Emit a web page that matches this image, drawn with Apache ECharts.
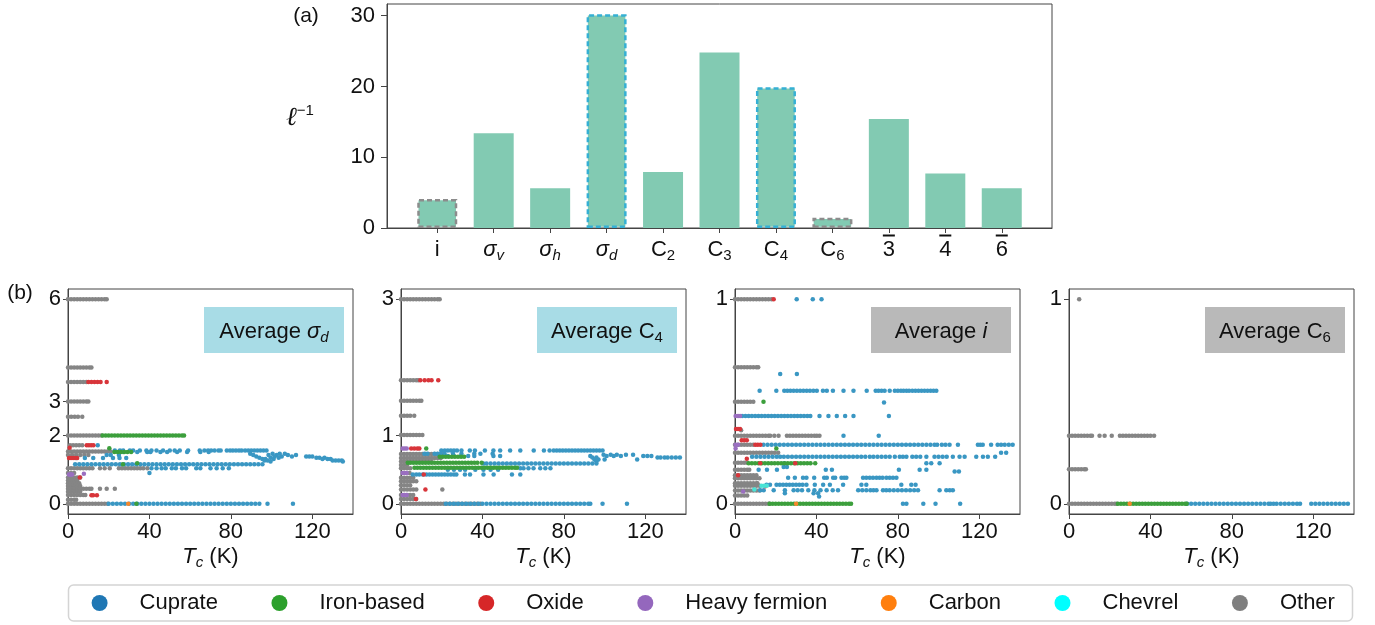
<!DOCTYPE html>
<html>
<head>
<meta charset="utf-8">
<script src="https://cdn.jsdelivr.net/npm/echarts@6/dist/echarts.min.js"></script>
<style>
  html, body { margin: 0; padding: 0; background: #ffffff; }
  #chart { width: 1375px; height: 625px; }
</style>
</head>
<body>
<div id="chart"></div>
<script>
// ---------- (a) inverse length per symmetry operation ----------
const opKeys = ['i', 'σv', 'σh', 'σd', 'C2', 'C3', 'C4', 'C6', '3bar', '4bar', '6bar'];
const opLabels = ['i', '{g|σ}{s|v}', '{g|σ}{s|h}', '{g|σ}{s|d}', 'C{n|2}', 'C{n|3}', 'C{n|4}', 'C{n|6}', '3', '4', '6'];
const opOverlined = [false, false, false, false, false, false, false, false, true, true, true];
const invLength = [4.1, 13.4, 5.6, 30.2, 7.9, 24.8, 19.9, 1.45, 15.4, 7.7, 5.6];
const invLengthTicks = [0, 10, 20, 30];

// ---------- (b) averages vs Tc; rows are [average, Tc1, Tc2, ...] ----------
const tcTicks = [0, 40, 80, 120];
const classNames = ['Cuprate', 'Iron-based', 'Oxide', 'Heavy fermion', 'Carbon', 'Chevrel', 'Other'];

// Average sigma_d
const sigmaDTicks = [0, 2, 3, 6];
const sigmaD_other = [
  [6, 0,1.5,3,4.5,6,7.5,9,10.5,12,13.5,15,16.5,18,19],
  [4, 0,1.5,3,4.5,6,7.5,9,10.5,11.5],
  [3.57, 0,1.5,3,4.5,6,7.5,9],
  [3, 0,1.5,3,4.5,6,7.5,9,10],
  [2.55, 0,1.6,3.3,4.9,7],
  [2, 0,1.5,3,4.5,6,7.5,9,10.5,12,13.5,15,16.5],
  [1.72, 1,2.5,4,5.5,7],
  [1.53, 0,1.5,3,4.5,6,7.5,9,10.5,12,13.5,15,16.5,18,19.5,21],
  [1.43, 0,2,4,6,8,10],
  [1.04, 0,1.5,3,4.5,6,7.5,9,10.5,12,15.7,18,20.5,25,26.5,28,29.5,31,32.5,34,35.5,37,39],
  [0.9, 0,1.5,3],
  [0.77, 0,1.5,3,4.5,6],
  [0.68, 0,1.5,3,4.5],
  [0.6, 0,1.5,3,4.5,5.5],
  [0.52, 0,1.5,3,4.5,6],
  [0.44, 0,1.5,3,4.5,6,7.5,9,10.5,11.5,15.7,19,23],
  [0.35, 0,1.5,3,4.5,6],
  [0.26, 0,1.5,3,4.5,6,7.5,8.5],
  [0.12, 0,1.5,3,4],
  [0, 0,1.5,3,4.5,6,7.5,9,10.5,12,13.5,15,16.5,18,19.5]
];
const sigmaD_cuprate = [
  [1.72, 14.6],
  [1.56, 23,25.5,27.1,30.4,32,35.3,38.5,41,43.5,46.7,50,52.4,54.9,59,64.7,67,68.8,70.3,72,73.9,75,78,79.6,81,82.5,84,85.3,87,88.5,90,91.5,93,94.5,96,97.5],
  [1.52, 27.1,34,38.9,40.5,45.4,48.7,53.6,58.5,65,69.1],
  [1.47, 89.5,100.5,104,106.5],
  [1.43, 19,21,25,91,98.5,102.5,108,112],
  [1.39, 92.5,101.5,105,110,117,118.5,120],
  [1.35, 94,99.5,103.5,122,123.5,126],
  [1.34, 4.2,8.3,12.4,17.2,22.1,25.3,28.6],
  [1.31, 95.5,97,101,125,127.5,129],
  [1.27, 96.5,98,130,131.5,133,134.5],
  [1.24, 99.5,135],
  [1.16, 3.5,5.5,7.5,9.5,11.5,13.5,15.5,17.5,19.5,21.5,23.5,25.5,27.5,29.5,31.5,33.5,35.5,37.5,39.5,41.5,43.5,45.5,47.5,49.5,51.5,53.5,55.5,57.5,59.5,61.5,63.5,65.5,67.5,69.5,71.5,73.5,75.5,77.5,79.5,81.5,83.5,85.5,87.5,89.5,91.5,93.5,95.5],
  [1.04, 41,43.5,46,48,51,53,56,58,63,65,70,73,76,79],
  [0.9, 40],
  [0, 20,22,24,26,28,30,32,34,36,38,40,42,44,46,48,50,52,54,56,58,60,62,64,66,68,70,72,74,76,78,80,82,84,86,88,90,92,94,98,110.5]
];
const sigmaD_iron = [
  [2, 17,18.5,20,21.5,23,24.5,26,27.5,29,30.5,32,33.5,35,36.5,38,39.5,41,42.5,44,45.5,47,48.5,50,51.5,53,54.5,56,57],
  [1.63, 20.3],
  [1.52, 22.8,24.4,26,27.6,29.2,31],
  [1.19, 34],
  [1.16, 27],
  [0, 33.6]
];
const sigmaD_oxide = [
  [3.57, 10,11.5,13,14.5,16,19],
  [1.72, 9.2,10.3,11.4,12.5],
  [1.64, 0.8],
  [1.34, 0.5,1.5,2.5,3.5,4.5],
  [0.77, 5.8],
  [0.25, 11.5,12.3,14.2]
];
const sigmaD_heavy = [[0.86, 0.5,1,1.5,2], [0.88, 7.8]];
const sigmaD_carbon = [[0, 29.6]];
const sigmaD_chevrel = [];

// Average C4
const c4Ticks = [0, 1, 3];
const c4_other = [
  [3, 0,1.5,3,4.5,6,7.5,9,10.5,12,13.5,15,16.5,18,19],
  [1.81, 0,1.5,3,4.5,6,7.5,8.5],
  [1.51, 0,1.5,3,4.5,6,7.5,9,10],
  [1.29, 0,1.5,3,4.5,6.5],
  [1.01, 0,1.5,3,4.5,6,7.5,9,10.5],
  [0.73, 0,1.5,3,4.5,6,7.5,9,10.5,12,13.5,15,16.5,18,19.5,21],
  [0.67, 0,1.5,3,4.5,6,7.5,9,10.5,12,13.5,15,16.5,18,19.5],
  [0.62, 0,1.5,3,4.5,6,7.5,9,10.5,12,13.5,15],
  [0.57, 0,1.5,3],
  [0.52, 0,1.5,3,4.5],
  [0.45, 4.2],
  [0.38, 0,1.5,3,4.5,6],
  [0.33, 0,1.5,3,4.5,6,7.5],
  [0.27, 0,1.5,3,4.5],
  [0.21, 0,1.5,3,4.5,6,7.5,20.3],
  [0.13, 0,1.5,3,4.5,6],
  [0.07, 0,1.5,3,4.5,6,7.5],
  [0, 0,1.5,3,4.5,6,7.5,9,10.5,12,13.5,15,16.5,18,19.5,21,22.5,24,25.5,27,28.5,30,31.5,33,34.5,36,37.5,39]
];
const c4_cuprate = [
  [0.78, 19.8,21.5,23,24.5,26,27.5,29.7,33.8,36.3,41.2,45.4,48.7,53.6,58.6,65.2,70.2,73,75,76.5,78,79.5,81,82.5,84,85.5,87,88.5,90,91.5,93,94.5,96,97.5,99],
  [0.735, 11.5,13,16.5,18,19.5,21.4,25.5,29.7,36,39,45],
  [0.72, 99.5,103,106,110.5,114],
  [0.7, 23,26,29.5,33,36,45.4,48.7,93,101,104.5,108,119,121,123],
  [0.68, 94,96,126,127.5,129.5,131,133,135,137],
  [0.65, 95,97,100,116],
  [0.62, 96],
  [0.59, 40.4,42,44,46,48,50,52,54,56,58,60,62,64,66,68,70,72,74,76,78,80,82,84,86,88,90,92,94,96],
  [0.52, 58.6,60.2,62.6,65.1,68.4,70.9,73.4],
  [0.5, 23,26,29,31.5,36.5,40.5,44,47.7],
  [0.43, 5.8,7.5,9,10.7,12.5,14,15.5,17,18.5,20,21.5,23,24.5,26,27.2,31.4,33.9,40.5,45.5,54.5,58.6],
  [0, 22,24,26,28,30,32,34,36,38,40,42,44,46,48,50,52,54,56,58,60,62,64,66,68,70,72,74,76,78,80,82,84,86,88,90,92,93,99,111]
];
const c4_iron = [
  [0.81, 12.4],
  [0.69, 19,20.5,22,23.5,25,26.5,28,29.5,31],
  [0.6, 3.3,4.5,6,7.5,9,10.5,12,13.5,15,16.5,18,19.5,21,22.5,24,25.5,27,28.5,30,31.5,33,34.5,36,37.5,39.6],
  [0.53, 6.6,8,9.5,11,12.5,14,15.5,17,18.5,20,21.5,23,24.5,26,27.5,29,30.5,32,33.5,35,36.5,38,39.5,41,42.5,44,45.5,47,48.5,50,51.5,53,54.5,56,57]
];
const c4_oxide = [
  [1.81, 9.5,11.6,13.5,15,18.3],
  [0.81, 5,6.5,8,9],
  [0.43, 11.2],
  [0.21, 12],
  [0.07, 7.3]
];
const c4_heavy = [[0.81, 0.8,1.8,2.8], [0.45, 0.8,1.8,2.8], [0.13, 0.8,1.8,2.8]];
const c4_carbon = [];
const c4_chevrel = [];

// Average i
const invTicks = [0, 1];
const inv_other = [
  [1, 0,1.5,3,4.5,6,7.5,9,10.5,12,13.5,15,16.5,18],
  [0.667, 0,1.5,3,4.5,6,7.5,9,10.5,11.4],
  [0.499, 0,1.5,3,4.5,6,7.5,9],
  [0.36, 3],
  [0.332, 0,1.5,3,4.5,6,7.5,9,10.5,12,13.5,15,16.5,17.3,19.3,21.4,25.5,27,28.5,30,31.5,33,34.5,36,37.5,39,40.2,41.5],
  [0.288, 0,1.5,3,4.5,6,7.5,9],
  [0.25, 0,1.5,3,4.5,6,7.5,9,10.5,12,13.5,15,16.5,18,19.5,21.2],
  [0.2, 0,1.5,3,4.5,6],
  [0.166, 0,1.5,3,4.5,6,7],
  [0.14, 0,1.5,3,4.5,6,7.5,9,10.5],
  [0.125, 0,1.5,3,4.5,6,7.5,9,10.5,12],
  [0.1, 0,1.5,3,4.5,6,7.5,9,10.5,11],
  [0.088, 0,1.5,3,4.5,6,7.5,9,10.5,12],
  [0.065, 0,1.5,3,4.5,6,7.5,9,10.5,12],
  [0.04, 0,1.5,3,4.5,6],
  [0, 0,1.5,3,4.5,6,7.5,9,10.5,12,13.5,15,16.5,17]
];
const inv_cuprate = [
  [1, 30.3,38.2,42.5],
  [0.634, 22.2,30.4],
  [0.553, 12.1,20.3,24.2,25.7,27.2,28.8,30.4,32,33.6,35.2,36.8,38.5,40.2,43.2,45.1,48.1,53.3,58.2,64.7,69.1,70.5,72,73.5,76,78.5,80,81.5,82.8,84.2,85.5,87.1,88.6,90.1,91.6,93.1,94.6,96.1,97.5,98.9],
  [0.495, 73.2],
  [0.429, 3.5,5.1,6.7,8.3,9.9,11.5,13.1,14.7,16.3,17.9,19.5,21.1,22.7,24.3,25.9,27.5,29.1,30.7,32.3,33.9,35.5,37,41.5,45.9,50,54.1,58.2,75.6],
  [0.332, 53.3,70.6],
  [0.288, 14,16,18,20,22,24,26,28,30,32,34,36,38,40,42,44,46,48,50,52,54,56,58,60,62,64,66,68,70,72,74,76,78,80,82,84,86,88,90,92,94,96,98,99.3,101.6,103.4,105.4,109.5,119.3,120.5,121.7,125.8,129,130.7,132.5,134.5,136.4],
  [0.25, 130.7,133.2],
  [0.23, 8.4,10.5,12.5,14.5,16.5,18.5,20.5,22.2,24,26,28,30,32,34,36,38,40,42,44,46,48,50,52,54,56,58,60,62,64,66.2,68,70,72,74,76,78.5,80.9,82.5,84.2,87.1,89,91,94,98,100,102,104,107,110.3,112.8,118.5,121.8,124.2,127.8],
  [0.198, 24.2,94,96.4,100.5],
  [0.18, 23.9,25.5],
  [0.166, 11.6,15.7,20.6,44.6,47.6,80.5,90.7,94],
  [0.158, 107.9,110],
  [0.127, 26.1,29.4,33.4,35.1,38.9,43.8,45.1,48.2,49.2,52.3,53.6,54.7,62.9,64.5,66.2,67.8,69.5,71,72.5,74.4,76,77.6,79.3],
  [0.093, 15.5,17.2,20.4,22,23.6,25.2,26.8,28.4,30,31.6,33.2,35.1,39.2,43.3,46.6,53.1,62.1,64.5,81.7,86.6,88.7],
  [0.066, 12.4,14.1,19,24.5,28.8,30.8,32.9,36,39,42,45,48,50.6,60.5,62.5,64.5,66.5,68,69.5,72.7,74.3,76,78,80,82,84,86,88,89.9,100.5,103.8,105.5,107],
  [0.052, 24.5,38.6,40.8],
  [0.036, 41.3],
  [0, 82.5,84.2,92.5,98.5,110.6]
];
const inv_iron = [
  [0.499, 14],
  [0.27, 20.3],
  [0.198, 6.7,8.3,9.9,11.5,13.1,14.7,16.3,17.9,19.5,21.1,22.7,24.3,25.9,27.5,29.1,30.7,32.3,33.9,35.5,37.1,39.4],
  [0, 17,18.5,20,21.5,23,24.5,26,27.5,29,30.5,32,33.5,35,36.5,38,39.5,41,42.5,44,45.5,47,48.5,50,51.5,53,54.5,56,57]
];
const inv_oxide = [
  [1, 19],
  [0.366, 0.5,1.5,2.5],
  [0.31, 3.3,4.5,5.8],
  [0.288, 10,11.2,12.5],
  [0.22, 5.8],
  [0.198, 12.4,29.6],
  [0.14, 1.5],
  [0.086, 14.9]
];
const inv_heavy = [[0.429, 0.3,1.5,2.5], [0.288, 0.3,1.5], [0.27, 0.3], [0.06, 4]];
const inv_carbon = [[0, 30]];
const inv_chevrel = [[0.088, 13,14.3,15.6], [0.07, 9.5]];

// Average C6
const c6Ticks = [0, 1];
const c6_other = [
  [1, 5],
  [0.333, 0,1.5,3,4.5,6,7.5,9,10.5,11.3,15,17.5,21,25,26.5,28,29.5,31,32.5,34,35.5,37,38.5,40,41.8],
  [0.169, 0,1.5,3,4.5,6,7.5,8.3],
  [0, 0,1.5,3,4.5,6,7.5,9,10.5,12,13.5,15,16.5,18,19.5,21,22.5,23.5]
];
const c6_cuprate = [
  [0, 58,60,62,64,66,68,70,72,74,76,78,80,82,84,86,88,90,92,94,96,98,99,100.5,102,104,106,108,110,112,113.5,119,121,123,125,127,129,131,133,135,137]
];
const c6_iron = [
  [0, 24,25.5,27,28.5,30,31.5,33,34.5,36,37.5,39,40.5,42,43.5,45,46.5,48,49.5,51,52.5,54,55.5,57,57.8]
];
const c6_oxide = [];
const c6_heavy = [];
const c6_carbon = [[0, 29.8]];
const c6_chevrel = [];

// ---------- drawing ----------
const FONT = '"Liberation Sans", Arial, Helvetica, sans-serif';
const AXIS = '#444';
const INK = '#111';
const barFill = '#82cab2';
const dashOutline = { 'i': '#8c8c8c', 'σd': '#35b0d4', 'C4': '#35b0d4', 'C6': '#8c8c8c' };
const pointColor = {
  'Cuprate': '#3a97c3', 'Iron-based': '#3c9f3c', 'Oxide': '#d8353a', 'Heavy fermion': '#9a6fc0',
  'Carbon': '#f5872a', 'Chevrel': '#48e3d6', 'Other': '#858585'
};
const legendColor = {
  'Cuprate': '#1f77b4', 'Iron-based': '#2ca02c', 'Oxide': '#d62728', 'Heavy fermion': '#9467bd',
  'Carbon': '#ff7f0e', 'Chevrel': '#00ffff', 'Other': '#7f7f7f'
};

// rich styles for italic symbols, subscripts and the overline bar
function richSet(colorKey) {
  const c = {};
  c[colorKey] = INK;
  return {
    g: Object.assign({ fontSize: 22, lineHeight: 26, fontStyle: 'italic', fontFamily: FONT }, c),
    s: Object.assign({ fontSize: 15, lineHeight: 15, fontStyle: 'italic', verticalAlign: 'bottom', fontFamily: FONT }, c),
    n: Object.assign({ fontSize: 15, lineHeight: 15, verticalAlign: 'bottom', fontFamily: FONT }, c),
    ov: { width: 12, height: 2, lineHeight: 3, fontSize: 2, backgroundColor: INK },
    sp: { width: 12, height: 2, lineHeight: 3, fontSize: 2 }
  };
}

const panels = [
  { label: 'Average {g|σ}{s|d}', box: '#a8dce6', yMin: -0.3, yMax: 6.3, ticks: sigmaDTicks,
    rows: [sigmaD_other, sigmaD_cuprate, sigmaD_iron, sigmaD_oxide, sigmaD_heavy, sigmaD_carbon, sigmaD_chevrel] },
  { label: 'Average C{n|4}', box: '#a8dce6', yMin: -0.15, yMax: 3.15, ticks: c4Ticks,
    rows: [c4_other, c4_cuprate, c4_iron, c4_oxide, c4_heavy, c4_carbon, c4_chevrel] },
  { label: 'Average {g|i}', box: '#b9b9b9', yMin: -0.05, yMax: 1.05, ticks: invTicks,
    rows: [inv_other, inv_cuprate, inv_iron, inv_oxide, inv_heavy, inv_carbon, inv_chevrel] },
  { label: 'Average C{n|6}', box: '#b9b9b9', yMin: -0.05, yMax: 1.05, ticks: c6Ticks,
    rows: [c6_other, c6_cuprate, c6_iron, c6_oxide, c6_heavy, c6_carbon, c6_chevrel] }
];
// series order inside each panel (grey drawn first)
const rowClass = ['Other', 'Cuprate', 'Iron-based', 'Oxide', 'Heavy fermion', 'Carbon', 'Chevrel'];

const panelLeft = [68, 401, 735, 1069];
const panelTop = 289, panelW = 285, panelH = 225;

function toPoints(rows) {
  const out = [];
  rows.forEach(r => { for (let k = 1; k < r.length; k++) out.push([r[k], r[0]]); });
  return out;
}

const grid = [{ left: 387, top: 4, width: 665, height: 224, show: true, borderColor: AXIS, borderWidth: 1 }];
const xAxis = [{
  gridIndex: 0, type: 'value', min: -0.89, max: 10.89,
  axisLine: { show: true, onZero: false, lineStyle: { color: AXIS } },
  axisTick: { show: true, length: 5, lineStyle: { color: AXIS }, customValues: opKeys.map((k, i) => i) },
  axisLabel: {
    customValues: opKeys.map((k, i) => i), margin: 6, fontSize: 22, lineHeight: 26, fontFamily: FONT, color: INK,
    formatter: v => {
      const i = Math.round(v);
      return (opOverlined[i] ? '{ov| }' : '{sp| }') + '\n' + opLabels[i];
    },
    rich: richSet('color')
  },
  splitLine: { show: false }
}];
const yAxis = [{
  gridIndex: 0, type: 'value', min: 0, max: 31.65,
  axisLine: { show: true, onZero: false, lineStyle: { color: AXIS } },
  axisTick: { show: true, length: 6, lineStyle: { color: AXIS }, customValues: invLengthTicks },
  axisLabel: { customValues: invLengthTicks, margin: 12, fontSize: 22, fontFamily: FONT, color: INK },
  splitLine: { show: false }
}];

const series = [{
  type: 'bar', name: 'inverse length', xAxisIndex: 0, yAxisIndex: 0, barWidth: 40, silent: true,
  data: invLength.map((v, i) => {
    const c = dashOutline[opKeys[i]];
    return {
      value: [i, v],
      itemStyle: c ? { color: barFill, borderColor: c, borderWidth: 2.5, borderType: [5, 3] } : { color: barFill }
    };
  })
}];

panels.forEach((p, k) => {
  const gi = k + 1;
  grid.push({ left: panelLeft[k], top: panelTop, width: panelW, height: panelH, show: true, borderColor: AXIS, borderWidth: 1 });
  xAxis.push({
    gridIndex: gi, type: 'value', min: 0, max: 140,
    name: '{t|T}{c|c} (K)', nameLocation: 'middle', nameGap: 30,
    nameTextStyle: {
      fontSize: 22, lineHeight: 26, fontFamily: FONT, color: INK,
      rich: {
        t: { fontSize: 22, lineHeight: 26, fontStyle: 'italic', fontFamily: FONT, color: INK },
        c: { fontSize: 15, lineHeight: 15, fontStyle: 'italic', verticalAlign: 'bottom', fontFamily: FONT, color: INK }
      }
    },
    axisLine: { show: true, onZero: false, lineStyle: { color: AXIS } },
    axisTick: { show: true, length: 5, lineStyle: { color: AXIS }, customValues: tcTicks },
    axisLabel: { customValues: tcTicks, margin: 7, fontSize: 22, fontFamily: FONT, color: INK },
    splitLine: { show: false }
  });
  yAxis.push({
    gridIndex: gi, type: 'value', min: p.yMin, max: p.yMax,
    axisLine: { show: true, onZero: false, lineStyle: { color: AXIS } },
    axisTick: { show: true, length: 5, lineStyle: { color: AXIS }, customValues: p.ticks },
    axisLabel: { customValues: p.ticks, margin: 7, fontSize: 22, fontFamily: FONT, color: INK },
    splitLine: { show: false }
  });
  p.rows.forEach((rows, j) => {
    if (!rows.length) return;
    const name = rowClass[j];
    series.push({
      type: 'scatter', name: name, xAxisIndex: gi, yAxisIndex: gi, silent: true,
      symbolSize: 4.5, itemStyle: { color: pointColor[name], opacity: 1 },
      data: toPoints(rows)
    });
  });
});

function centeredText(x, y, text, extra) {
  return {
    type: 'text', x: x, y: y, z: 20,
    style: Object.assign({
      text: text, fontSize: 22, fontFamily: FONT, fill: INK,
      textAlign: 'center', textVerticalAlign: 'middle', align: 'center', verticalAlign: 'middle'
    }, extra || {})
  };
}

// panel letters, axis symbol, legend frame and label boxes
const graphic = [
  { type: 'rect', z: 0, shape: { x: 68.5, y: 585, width: 1284, height: 36, r: 5 },
    style: { fill: '#ffffff', stroke: '#d4d4d4', lineWidth: 1.5 } },
  centeredText(306, 16, '(a)', { fontSize: 21 }),
  centeredText(20, 293, '(b)', { fontSize: 21 }),
  centeredText(300, 118, '{l|ℓ}{p|−1}', {
    rich: {
      l: { fontSize: 26, lineHeight: 30, fontStyle: 'italic', fontFamily: '"DejaVu Serif", serif', fill: INK },
      p: { fontSize: 15, lineHeight: 15, verticalAlign: 'top', fontFamily: FONT, fill: INK }
    }
  })
];
panels.forEach((p, k) => {
  const bx = panelLeft[k] + 136, by = 307, bw = 140, bh = 46;
  graphic.push({ type: 'rect', z: 10, shape: { x: bx, y: by, width: bw, height: bh }, style: { fill: p.box } });
  graphic.push(centeredText(bx + bw / 2, by + bh / 2 + 2, p.label, { lineHeight: 26, rich: richSet('fill') }));
});

const chart = echarts.init(document.getElementById('chart'), null, { renderer: 'canvas' });
chart.setOption({
  animation: false,
  backgroundColor: '#ffffff',
  grid, xAxis, yAxis, series, graphic,
  legend: {
    left: 91.6, top: 592, padding: 0, itemWidth: 16, itemHeight: 16, itemGap: 53.6,
    icon: 'circle', selectedMode: false,
    textStyle: { fontSize: 22, fontFamily: FONT, color: INK, padding: [0, 0, 0, 27] },
    data: classNames.map(n => ({ name: n, itemStyle: { color: legendColor[n] } }))
  }
});
</script>
</body>
</html>
